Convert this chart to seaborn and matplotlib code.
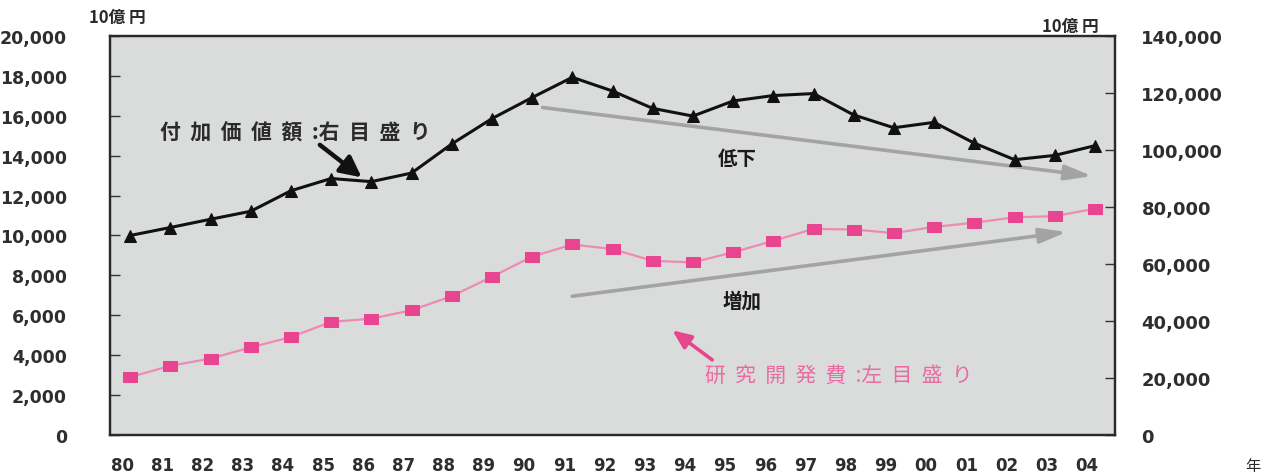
import numpy as np
import pandas as pd
import matplotlib
matplotlib.use("Agg")
import matplotlib.pyplot as plt
import seaborn as sns
from matplotlib.transforms import ScaledTranslation
from matplotlib.ticker import FixedLocator, FuncFormatter

# ---------------- data ----------------
years = ["80", "81", "82", "83", "84", "85", "86", "87", "88", "89", "90", "91",
         "92", "93", "94", "95", "96", "97", "98", "99", "00", "01", "02", "03", "04"]
value_added = [70000, 72800, 75700, 78500, 85700, 90000, 88900, 91900, 102100,
               111000, 118400, 125500, 120700, 114600, 111900, 117200, 119100,
               119800, 112300, 107800, 109700, 102400, 96600, 98100, 101500]
rd_spending = [2900, 3470, 3830, 4390, 4910, 5670, 5830, 6250, 6960, 7930, 8940,
               9550, 9320, 8730, 8650, 9160, 9730, 10330, 10300, 10120, 10430,
               10640, 10910, 10970, 11340]
left_ticks = list(range(0, 20001, 2000))
right_ticks = list(range(0, 140001, 20000))

# ---------------- style ----------------
sns.set_style("white")
plt.rcParams['font.family'] = ['Noto Sans CJK JP', 'DejaVu Sans']

W, H = 1273, 477
fig = plt.figure(figsize=(W / 100, H / 100), dpi=100)
fig.patch.set_facecolor("white")
ax = fig.add_axes([110 / W, 1 - 436 / H, (1115 - 110) / W, (436 - 37) / H])
ax.set_facecolor("#d9dcda")
ax2 = ax.twinx()

pos = np.arange(len(years))
df = pd.DataFrame({"pos": pos, "year": years, "va": value_added, "rd": rd_spending})

rect = [(-1, -0.7), (1, -0.7), (1, 0.7), (-1, 0.7), (-1, -0.7)]
sns.lineplot(data=df, x="pos", y="rd", ax=ax, color="#ee8ab4", lw=1.6,
             marker=rect, markersize=9.5, markerfacecolor="#e8448f",
             markeredgecolor="#e8448f", zorder=3)
sns.lineplot(data=df, x="pos", y="va", ax=ax2, color="#111111", lw=2.2,
             marker="^", markersize=8.5, markerfacecolor="#111111",
             markeredgecolor="#111111", zorder=4)

ax.set_xlim(-0.5, len(years) - 0.5)
ax.set_ylim(0, 20000)
ax2.set_ylim(0, 140000)
for a in (ax, ax2):
    a.set_xlabel("")
    a.set_ylabel("")
    for s in a.spines.values():
        s.set_color("#2a2a2a")
        s.set_linewidth(1.6)

tick_color = "#2e2e2e"
ax.yaxis.set_major_locator(FixedLocator(left_ticks))
ax.yaxis.set_major_formatter(FuncFormatter(lambda v, p: f"{int(v):,}"))
ax2.yaxis.set_major_locator(FixedLocator(right_ticks))
ax2.yaxis.set_major_formatter(FuncFormatter(lambda v, p: f"{int(v):,}"))

ax.set_xticks(pos)
ax.set_xticklabels(years)
ax.set_xticks(np.arange(0.5, len(years) - 0.5, 1), minor=True)
ax.tick_params(axis="x", which="major", length=0, pad=15, labelsize=12,
               labelcolor=tick_color)
ax.tick_params(axis="x", which="minor", direction="in", length=5, width=1,
               color="#333333")
ax.tick_params(axis="y", direction="in", length=7, width=1, color="#333333",
               pad=31, labelsize=12.5, labelcolor=tick_color)
ax2.tick_params(axis="y", direction="in", length=7, width=1, color="#333333",
                pad=19, labelsize=13, labelcolor=tick_color)

for lab in ax.get_xticklabels():
    lab.set_fontfamily("DejaVu Sans")
    lab.set_fontweight("bold")
    lab.set_transform(lab.get_transform() + ScaledTranslation(-0.08, 0, fig.dpi_scale_trans))
for lab in ax.get_yticklabels() + ax2.get_yticklabels():
    lab.set_fontfamily("DejaVu Sans")
    lab.set_fontweight("bold")

# ---------------- annotations ----------------
ax2.text(4.11, 106240, "付  加  価  値  額  :右  目  盛  り", ha="center", va="center",
         fontsize=15, fontweight="bold", color="#2a2a2a")
ax2.annotate("", xy=(5.76, 90400), xytext=(4.72, 101800),
             arrowprops=dict(arrowstyle="-|>,head_length=0.7,head_width=0.35",
                             color="#111111", lw=3.2, mutation_scale=18,
                             shrinkA=0, shrinkB=0))

ax2.annotate("", xy=(23.93, 90840), xytext=(10.26, 114900),
             arrowprops=dict(arrowstyle="-|>,head_length=0.9,head_width=0.25",
                             color="#a3a3a3", lw=2.6, mutation_scale=18,
                             shrinkA=0, shrinkB=0))
ax2.text(15.1, 96950, "低下", ha="center", va="center", fontsize=14,
         fontweight="bold", color="#1a1a1a")

ax2.annotate("", xy=(23.30, 71220), xytext=(11.0, 48690),
             arrowprops=dict(arrowstyle="-|>,head_length=0.9,head_width=0.25",
                             color="#a3a3a3", lw=2.6, mutation_scale=18,
                             shrinkA=0, shrinkB=0))
ax2.text(15.23, 47040, "増加", ha="center", va="center", fontsize=14,
         fontweight="bold", color="#1a1a1a")

ax2.annotate("", xy=(13.49, 36730), xytext=(14.48, 26360),
             arrowprops=dict(arrowstyle="-|>,head_length=0.7,head_width=0.3",
                             color="#e8458f", lw=2.6, mutation_scale=16,
                             shrinkA=0, shrinkB=0))
ax2.text(17.64, 21070, "研  究  開  発  費  :左  目  盛  り", ha="center", va="center",
         fontsize=15, color="#ea6aa2")

# unit labels
fig.text(117 / W, 1 - 18 / H, "10億 円", ha="center", va="center", fontsize=12,
         fontweight="bold", color="#2a2a2a")
fig.text(1070 / W, 1 - 27 / H, "10億 円", ha="center", va="center", fontsize=12,
         fontweight="bold", color="#2a2a2a")
fig.text(1253 / W, 1 - 467 / H, "年", ha="center", va="center", fontsize=11,
         color="#2a2a2a")

fig.savefig("out.png", dpi=100)
